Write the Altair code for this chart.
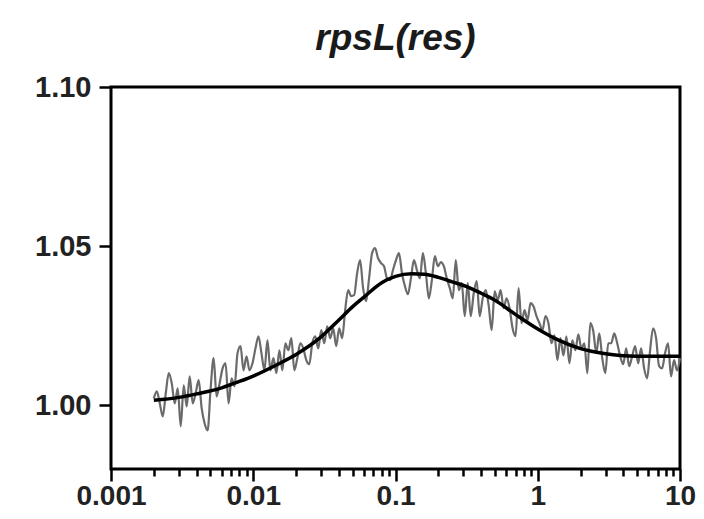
import altair as alt
import numpy as np
import pandas as pd

# ---- data ----
title_text = "rpsL(res)"

# noisy measured trace (gray), sampled evenly in log-x from 0.002 to 10
trace_start = 0.002
trace_stop = 10.0
trace_y = [
    # 0.002 .. ~0.01
    1.0022, 1.0044, 1.0006, 0.9965, 1.0038, 1.0101, 1.0069, 1.0006, 1.0053, 0.9934,
    1.0063, 0.9997, 1.0091, 1.0006, 1.0038, 1.0079, 0.9991, 0.9943, 0.9921, 1.0053,
    1.0148, 1.0028, 1.0069, 1.0116, 1.0132, 1.0006, 1.0085, 1.0060, 1.0164, 1.0186,
    1.0110, 1.0154, 1.0110, 1.0132,
    # ~0.01 .. ~0.05
    1.0179, 1.0217, 1.0164, 1.0110, 1.0204, 1.0110, 1.0148, 1.0101, 1.0173, 1.0110,
    1.0195, 1.0173, 1.0211, 1.0110, 1.0148, 1.0195, 1.0179, 1.0142, 1.0129, 1.0195,
    1.0217, 1.0179, 1.0236, 1.0195, 1.0248, 1.0211, 1.0242, 1.0186, 1.0242, 1.0211,
    1.0299, 1.0362, 1.0343, 1.0346,
    # ~0.05 .. ~0.3
    1.0415, 1.0456, 1.0368, 1.0327, 1.0399, 1.0478, 1.0494, 1.0462, 1.0447, 1.0437,
    1.0399, 1.0393, 1.0425, 1.0456, 1.0478, 1.0415, 1.0374, 1.0349, 1.0399, 1.0456,
    1.0425, 1.0399, 1.0478, 1.0415, 1.0336, 1.0393, 1.0469, 1.0437, 1.0450, 1.0437,
    1.0399, 1.0368, 1.0336, 1.0456, 1.0362, 1.0384, 1.0280,
    # ~0.3 .. ~1.7
    1.0384, 1.0280, 1.0352, 1.0390, 1.0280, 1.0336, 1.0362, 1.0314, 1.0236, 1.0358,
    1.0330, 1.0362, 1.0305, 1.0336, 1.0305, 1.0242, 1.0217, 1.0368, 1.0258, 1.0299,
    1.0267, 1.0321, 1.0311, 1.0280, 1.0258, 1.0236, 1.0280, 1.0258, 1.0195, 1.0220,
    1.0142, 1.0211, 1.0157, 1.0217,
    # ~1.7 .. 10
    1.0132, 1.0204, 1.0173, 1.0223, 1.0179, 1.0195, 1.0101, 1.0258, 1.0233, 1.0164,
    1.0226, 1.0148, 1.0101, 1.0195, 1.0195, 1.0226, 1.0195, 1.0154, 1.0129, 1.0179,
    1.0123, 1.0154, 1.0186, 1.0132, 1.0179, 1.0116, 1.0085, 1.0173, 1.0242, 1.0211,
    1.0123, 1.0116, 1.0164, 1.0195, 1.0091, 1.0142, 1.0110, 1.0148,
]

# smooth fitted curve (black)
fit_x = [0.002, 0.003, 0.004, 0.006, 0.008, 0.01, 0.015, 0.02, 0.03, 0.04, 0.05,
         0.06, 0.08, 0.1, 0.13, 0.16, 0.2, 0.25, 0.32, 0.4, 0.5, 0.7, 1.0, 1.4,
         2.0, 3.0, 4.0, 6.0, 10.0]
fit_y = [1.0016, 1.0025, 1.0036, 1.0055, 1.0075, 1.0092, 1.0130, 1.0160, 1.0215,
         1.0268, 1.0310, 1.0340, 1.0385, 1.0405, 1.0413, 1.0412, 1.0402, 1.0388,
         1.0372, 1.0352, 1.0330, 1.0285, 1.0240, 1.0205, 1.0178, 1.0162, 1.0156,
         1.0154, 1.0154]

# axis ticks
x_major = [0.001, 0.01, 0.1, 1, 10]
x_minor_mult = [2, 3, 4, 5, 6, 7, 8, 9]
y_ticks = [1.00, 1.05, 1.10]
x_domain = [0.001, 10]
y_domain = [0.98, 1.10]

# ---- build tables ----
trace_x = np.logspace(np.log10(trace_start), np.log10(trace_stop), len(trace_y))
trace_df = pd.DataFrame({"x": trace_x, "y": trace_y})
fit_df = pd.DataFrame({"x": fit_x, "y": fit_y})

x_ticks = []
for d in x_major:
    x_ticks.append(d)
    if d < 10:
        x_ticks += [m * d for m in x_minor_mult]

major_test = "indexof([" + ",".join(str(v) for v in x_major) + "], datum.value) >= 0"

FONT = "Liberation Sans"

x_enc = alt.X(
    "x:Q",
    scale=alt.Scale(type="log", domain=x_domain, nice=False),
    axis=alt.Axis(
        title=None,
        values=x_ticks,
        labelExpr=f"{major_test} ? format(datum.value, '~g') : ''",
        labelOverlap=False,
        labelFlush=False,
        labelFont=FONT,
        labelFontSize=28,
        labelFontWeight="bold",
        labelColor="#222222",
        labelPadding=1,
        tickColor="black",
        tickWidth=2.5,
        tickSize={"condition": {"test": major_test, "value": 12}, "value": 7},
        domain=False,
        grid=False,
    ),
)
y_enc = alt.Y(
    "y:Q",
    scale=alt.Scale(domain=y_domain, nice=False, zero=False),
    axis=alt.Axis(
        title=None,
        values=y_ticks,
        format=".2f",
        labelFont=FONT,
        labelFontSize=29,
        labelFontWeight="bold",
        labelColor="#222222",
        labelPadding=8,
        tickColor="black",
        tickWidth=2.5,
        tickSize=12,
        domain=False,
        grid=False,
    ),
)

trace = alt.Chart(trace_df).mark_line(
    color="#6b6b6b", strokeWidth=2.2, interpolate="monotone"
).encode(x=x_enc, y=y_enc)
fit = alt.Chart(fit_df).mark_line(
    color="black", strokeWidth=3.5, interpolate="monotone"
).encode(x="x:Q", y="y:Q")

chart = (
    alt.layer(trace, fit)
    .properties(
        width=569,
        height=382,
        autosize=alt.AutoSizeParams(type="none"),
        padding={"left": 103, "top": 79, "right": 16, "bottom": 41},
        title=alt.TitleParams(
            text=title_text,
            font=FONT,
            fontSize=37,
            fontWeight="bold",
            fontStyle="italic",
            color="#1a1a1a",
            anchor="middle",
            offset=15,
        ),
    )
    .configure_view(stroke="black", strokeWidth=3)
)

chart.save("out.html", embed_options={"renderer": "svg", "actions": False})
